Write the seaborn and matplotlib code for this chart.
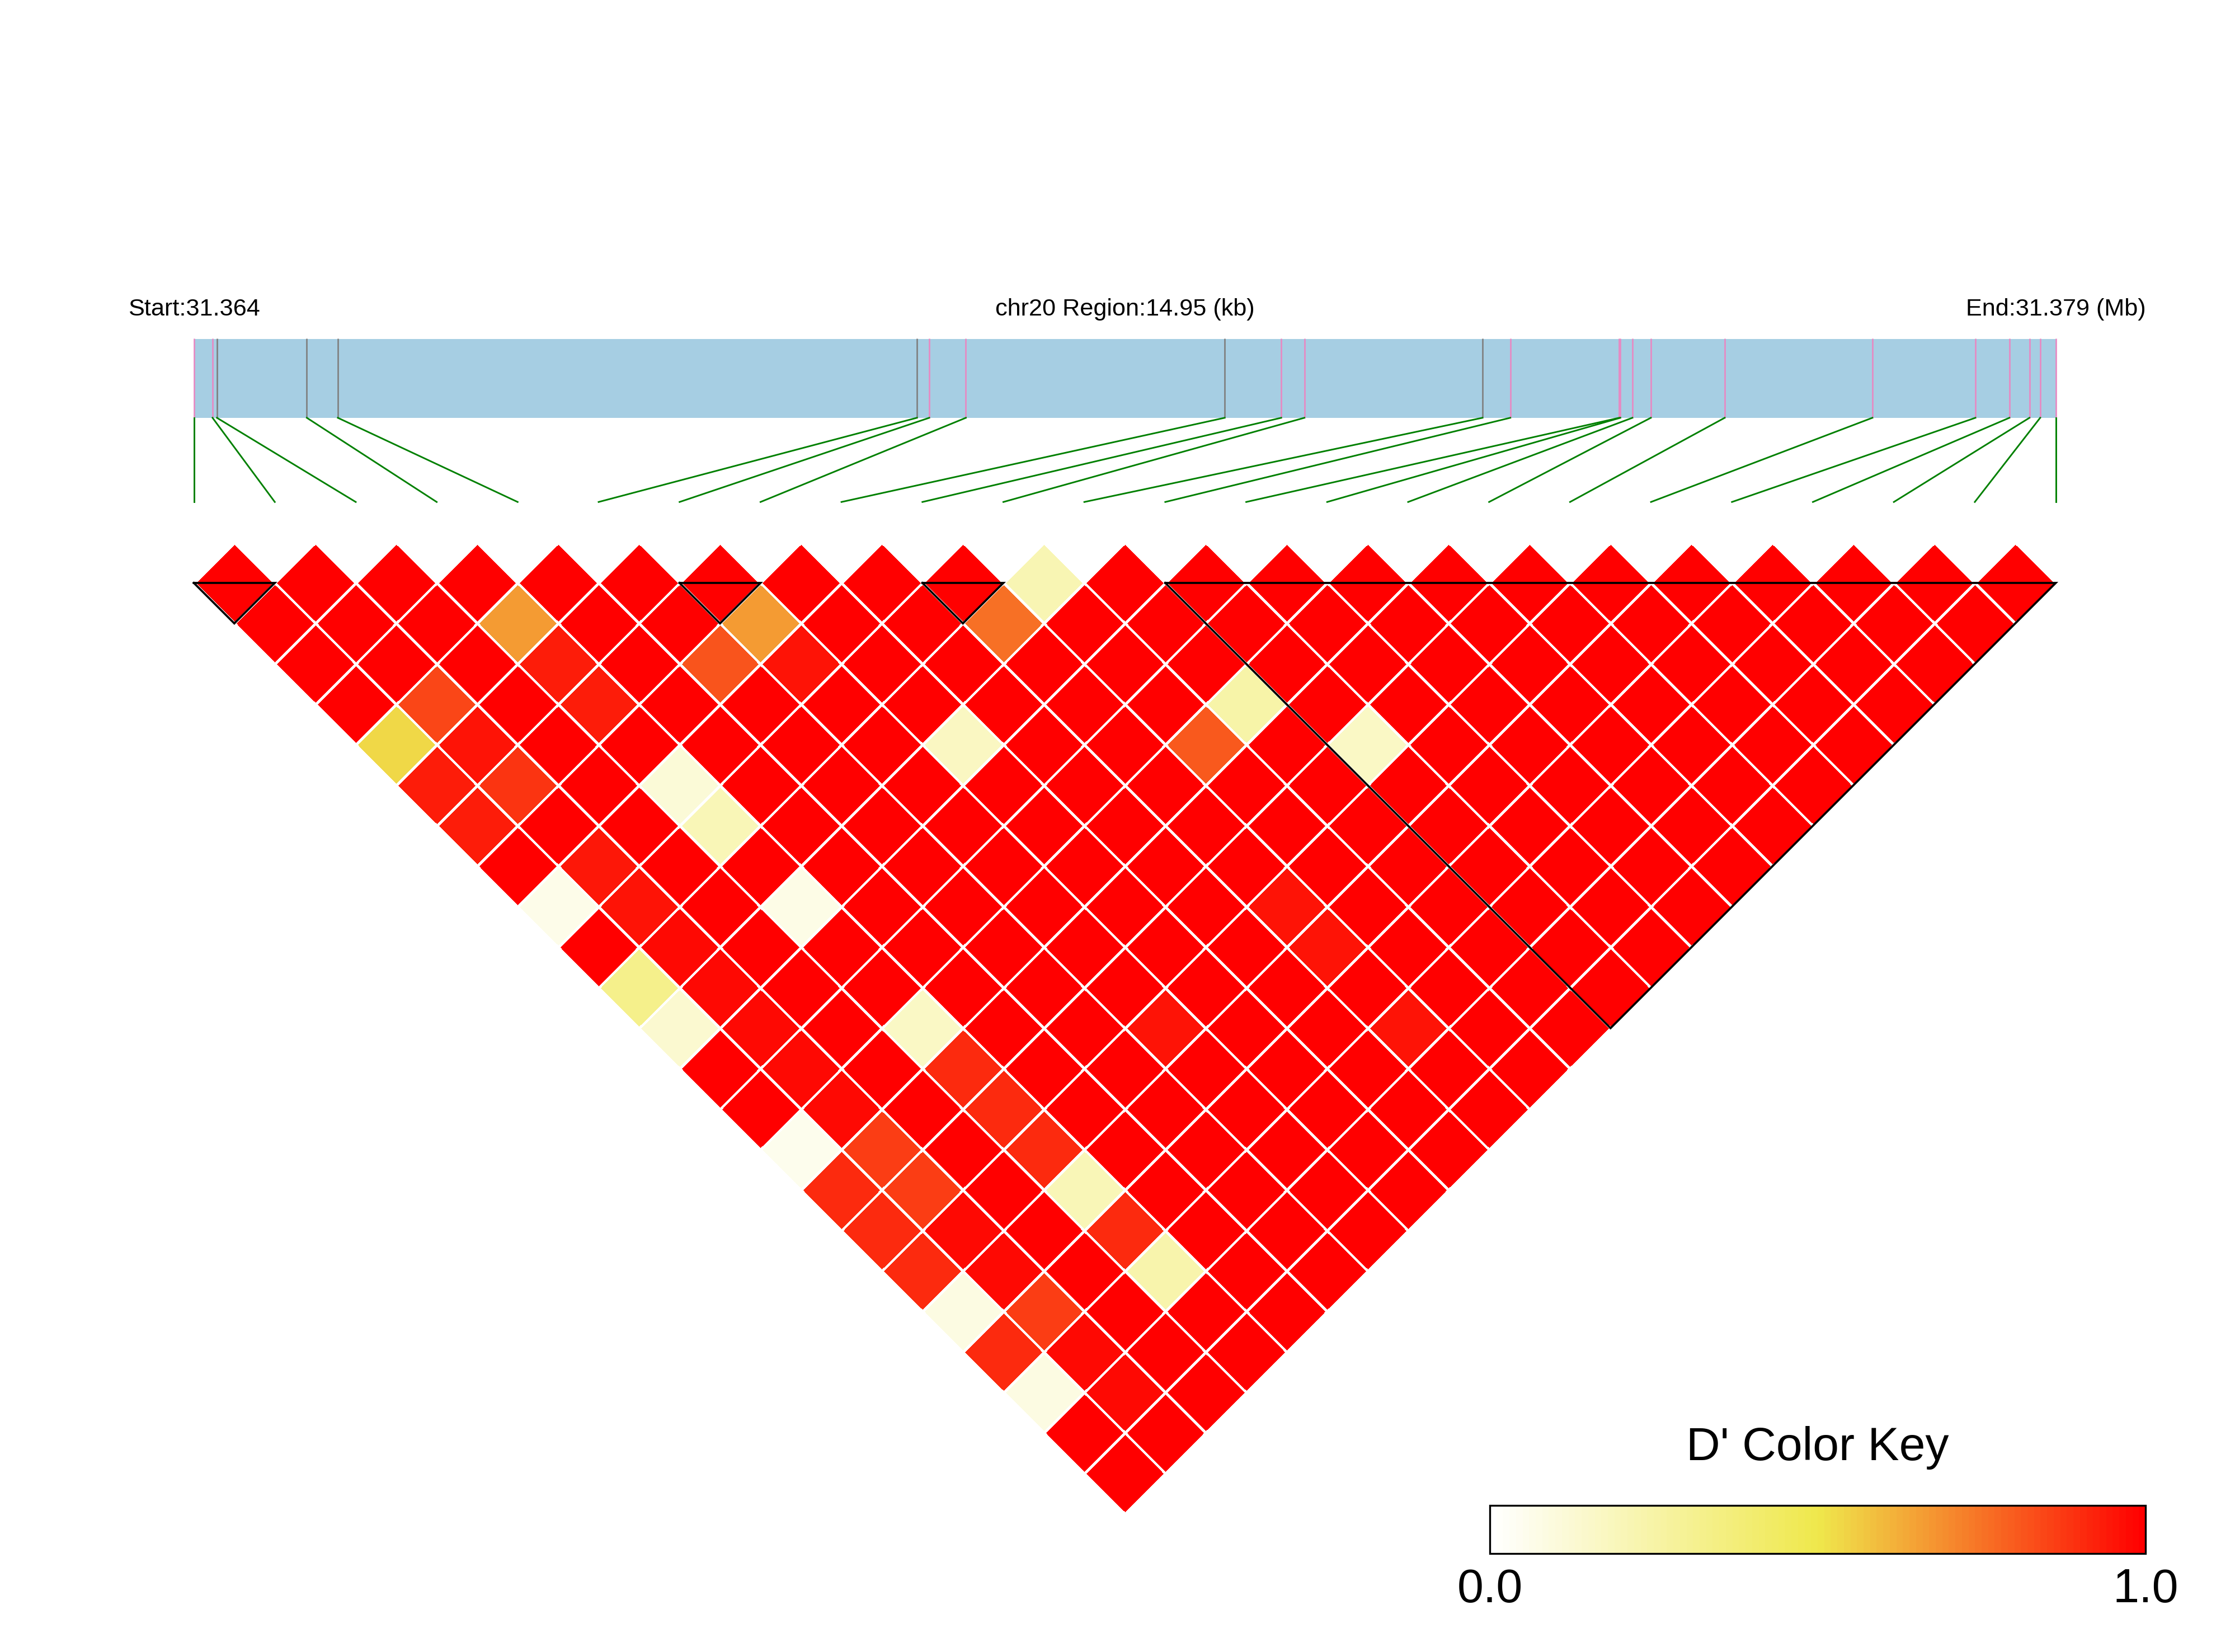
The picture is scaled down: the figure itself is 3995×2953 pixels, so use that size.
import numpy as np
import matplotlib
matplotlib.use('Agg')
import matplotlib.pyplot as plt
from matplotlib.colors import LinearSegmentedColormap
from matplotlib.patches import Rectangle
from matplotlib.transforms import Affine2D
import seaborn as sns

plt.rcParams['font.family'] = ['Liberation Sans', 'DejaVu Sans']

# ---------------- data ----------------
chrom = "chr20"
# SNP positions (bp)
snp_pos = [31364000, 31364150, 31364185, 31364907, 31365156, 31369806,
           31369905, 31370199, 31372277, 31372731, 31372917, 31374347,
           31374570, 31375445, 31375454, 31375551, 31375699, 31376292,
           31377478, 31378305, 31378578, 31378739, 31378825, 31378950]
# tick colour of each SNP in the region bar
snp_color = ['#E78AC3', '#E78AC3', '#808080', '#808080', '#808080', '#808080',
             '#E78AC3', '#E78AC3', '#808080', '#E78AC3', '#E78AC3', '#808080',
             '#E78AC3', '#E78AC3', '#E78AC3', '#E78AC3', '#E78AC3', '#E78AC3',
             '#E78AC3', '#E78AC3', '#E78AC3', '#E78AC3', '#E78AC3', '#E78AC3']

# pairwise D' (every pair not listed is 1.0)
ld_i = [0, 0, 0, 0, 0, 0, 0, 0, 0, 0, 0, 0, 0,
        1, 1, 1, 1, 1, 1, 1, 1, 1, 1, 1, 1, 1, 1, 1, 1, 1,
        3, 3, 3, 3, 3, 3, 3, 3, 3, 3, 3, 3, 3,
        5, 6, 6, 6, 7, 9, 9, 9, 9, 10, 10, 11, 12]
ld_j = [5, 6, 7, 9, 11, 12, 15, 16, 17, 18, 19, 20, 21,
        5, 6, 7, 9, 10, 11, 12, 13, 14, 15, 16, 17, 18, 19, 20, 21, 22,
        5, 6, 7, 9, 10, 12, 15, 16, 17, 18, 19, 20, 21,
        8, 8, 9, 18, 12, 11, 18, 19, 21, 11, 15, 15, 17]
ld_val = [0.53, 0.93, 0.93, 0.06, 0.32, 0.13, 0.05, 0.90, 0.90, 0.90, 0.08, 0.90, 0.08,
          0.84, 0.95, 0.88, 0.94, 0.95, 0.97, 0.97, 0.97, 0.97, 0.97, 0.86, 0.86, 0.97, 0.97, 0.86, 0.97, 0.97,
          0.66, 0.93, 0.93, 0.11, 0.20, 0.07, 0.16, 0.90, 0.90, 0.90, 0.20, 0.90, 0.23,
          0.81, 0.66, 0.95, 0.95, 0.17, 0.75, 0.95, 0.95, 0.95, 0.21, 0.80, 0.24, 0.16]

# LD blocks (first SNP, last SNP)
block_start = [0, 6, 9, 12]
block_end = [1, 7, 10, 23]

# ---------------- matrix ----------------
n = len(snp_pos)
dmat = np.full((n, n), np.nan)
iu = np.triu_indices(n, k=1)
dmat[iu] = 1.0
for i, j, v in zip(ld_i, ld_j, ld_val):
    dmat[i, j] = v
mask = np.isnan(dmat)

cmap = LinearSegmentedColormap.from_list('dprime', ['#FFFFFF', '#EFE84C', '#FF0000'], N=100)

# ---------------- figure ----------------
W, H, DPI = 3995, 2953, 300
fig = plt.figure(figsize=(W / DPI, H / DPI), dpi=DPI)
ax = fig.add_axes([0, 0, 1, 1])
cax = fig.add_axes([2663 / W, 1 - 2777 / H, 1172 / W, 86 / H])

sns.heatmap(dmat, mask=mask, cmap=cmap, vmin=0, vmax=1,
            linewidths=0.7, linecolor='white',
            xticklabels=False, yticklabels=False,
            cbar=True, cbar_ax=cax,
            cbar_kws={'orientation': 'horizontal', 'ticks': [0, 1]}, ax=ax)

# rotate the heatmap 45 degrees: pair (i, j) -> ((i+j)/2, -(j-i-1)/2)
mesh = ax.collections[0]
mesh.set_transform(Affine2D().from_values(0.5, -0.5, 0.5, 0.5, -0.5, 0.5) + ax.transData)

unit = (3674.6 - 346.5) / (n - 1)
x0_px, y0_px = 346.5, 1042.0
ax.set_xlim(-x0_px / unit, (W - x0_px) / unit)
ax.set_ylim(-(H - y0_px) / unit, y0_px / unit)
ax.axis('off')

# LD block outlines
for a, b in zip(block_start, block_end):
    ax.plot([a, b, (a + b) / 2, a], [0, 0, -(b - a) / 2, 0],
            color='black', lw=0.9, solid_joinstyle='miter', zorder=3)

# region bar with SNP ticks
pos = np.array(snp_pos, dtype=float)
xpos = (pos - pos[0]) / (pos[-1] - pos[0]) * (n - 1)
bar_lo, bar_hi = 2.04, 3.01
ax.add_patch(Rectangle((0, bar_lo), n - 1, bar_hi - bar_lo,
                       facecolor='#A6CEE3', edgecolor='none', zorder=1))
ax.vlines(xpos, bar_lo, bar_hi + 0.01, colors=snp_color, lw=0.65, zorder=2)
for k in range(n):
    ax.plot([xpos[k], k], [bar_lo, 1.0], color='#008000', lw=0.7, zorder=2)

txt_y = (y0_px - 564) / unit
ax.text(0, txt_y, f"Start:{pos[0] / 1e6:.3f}", ha='center', va='baseline', fontsize=10.4)
ax.text((n - 1) / 2, txt_y, f"{chrom} Region:{(pos[-1] - pos[0]) / 1000:.2f} (kb)",
        ha='center', va='baseline', fontsize=10.4)
ax.text(n - 1, txt_y, f"End:{pos[-1] / 1e6:.3f} (Mb)", ha='center', va='baseline', fontsize=10.4)

# colour key
cb = mesh.colorbar
cb.outline.set_linewidth(0.8)
cb.outline.set_edgecolor('black')
cax.set_xticklabels(['0.0', '1.0'])
cax.tick_params(axis='x', length=0, pad=6, labelsize=20.3)
fig.text(3249 / W, 1 - 2610 / H, "D' Color Key", ha='center', va='baseline', fontsize=20.2)

fig.savefig('out.png', dpi=DPI)
